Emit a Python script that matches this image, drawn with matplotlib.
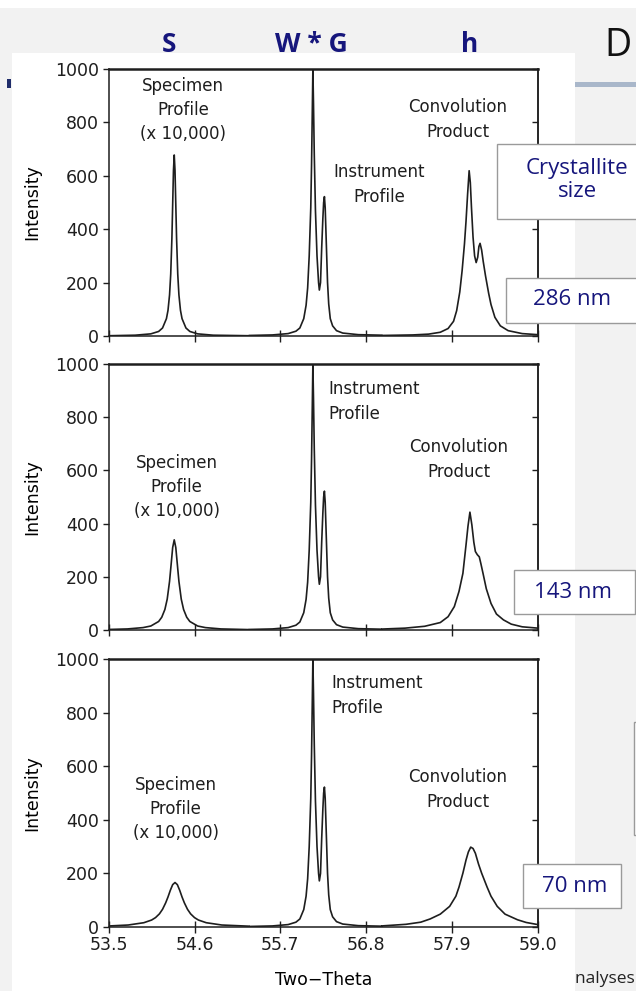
import numpy as np
import matplotlib.pyplot as plt
from matplotlib.patches import Rectangle


NAVY = '#16167c'
INK = '#1e1e1e'
W, H = 636, 991

plt.rcParams['font.family'] = ['DejaVu Sans']
plt.rcParams['text.color'] = INK
plt.rcParams['axes.edgecolor'] = INK
plt.rcParams['xtick.color'] = INK
plt.rcParams['ytick.color'] = INK

two_theta_ticks = [53.5, 54.6, 55.7, 56.8, 57.9, 59.0]
intensity_ticks = [0, 200, 400, 600, 800, 1000]
crystallite_sizes = ['286 nm', '143 nm', '70 nm']

# instrument profile (same in every panel)
inst_theta = [55.3, 55.6, 55.8, 55.9, 55.95, 56.0, 56.03, 56.05, 56.07, 56.09,
              56.10, 56.11, 56.117, 56.125, 56.135, 56.15, 56.17, 56.19, 56.20,
              56.215, 56.23, 56.245, 56.255, 56.265, 56.275, 56.29, 56.305,
              56.32, 56.34, 56.37, 56.42, 56.5, 56.7, 57.0]
inst_counts = [2, 4, 9, 18, 30, 65, 115, 180, 300, 480,
               640, 850, 1000, 870, 680, 470, 300, 200, 172,
               200, 330, 440, 500, 522, 480, 340, 200,
               120, 65, 38, 20, 11, 5, 3]

# specimen profiles (x 10,000)
spec_theta_286 = [53.5, 53.84, 54.04, 54.14, 54.19, 54.24, 54.26, 54.28, 54.295,
                  54.31, 54.32, 54.33, 54.34, 54.35, 54.36, 54.37, 54.385, 54.40,
                  54.42, 54.44, 54.49, 54.54, 54.64, 54.84, 55.3]
spec_counts_286 = [1, 3, 8, 17, 30, 65, 96, 154, 232,
                   366, 492, 619, 678, 619, 492, 366, 232, 154,
                   96, 65, 30, 17, 8, 3, 1]

spec_theta_143 = [53.5, 53.74, 53.94, 54.04, 54.14, 54.18, 54.22, 54.25, 54.28,
                  54.30, 54.32, 54.34, 54.36, 54.38, 54.40, 54.43, 54.46, 54.50,
                  54.54, 54.64, 54.74, 54.94, 55.3]
spec_counts_143 = [2, 4, 9, 15, 32, 48, 77, 116, 183,
                   246, 310, 339, 310, 246, 183, 116, 77, 48,
                   32, 15, 9, 4, 1.5]

spec_theta_70 = [53.5, 53.75, 53.95, 54.05, 54.10, 54.15, 54.19, 54.23, 54.26,
                 54.29, 54.32, 54.35, 54.38, 54.41, 54.44, 54.47, 54.51, 54.55,
                 54.60, 54.65, 54.75, 54.95, 55.3]
spec_counts_70 = [3.8, 7.4, 16, 26, 35, 49, 66, 90, 112,
                  137, 158, 166, 158, 137, 112, 90, 66, 49,
                  35, 26, 16, 7.4, 3]

# convolution products
conv_theta_286 = [57.0, 57.4, 57.6, 57.75, 57.85, 57.92, 57.96, 58.0, 58.03, 58.06,
                  58.08, 58.10, 58.12, 58.135, 58.15, 58.17, 58.19, 58.21, 58.23,
                  58.245, 58.26, 58.28, 58.30, 58.33, 58.37, 58.40, 58.45, 58.52,
                  58.62, 58.8, 59.0]
conv_counts_286 = [2, 4, 7, 14, 28, 55, 95, 165, 245, 345,
                   430, 530, 619, 575, 480, 370, 300, 275, 295,
                   335, 347, 322, 280, 225, 160, 118, 70, 38,
                   20, 9, 5]

conv_theta_143 = [57.0, 57.3, 57.55, 57.75, 57.85, 57.93, 57.99, 58.04, 58.08,
                  58.105, 58.13, 58.155, 58.18, 58.20, 58.225, 58.25, 58.27,
                  58.30, 58.34, 58.40, 58.47, 58.56, 58.66, 58.8, 59.0]
conv_counts_143 = [3.5, 7, 14, 28, 50, 88, 145, 213, 320,
                   390, 443, 395, 330, 295, 283, 275, 250,
                   210, 155, 100, 60, 38, 22, 12, 7]

conv_theta_70 = [57.0, 57.31, 57.5, 57.62, 57.75, 57.87, 57.95, 57.99, 58.04,
                 58.08, 58.11, 58.14, 58.17, 58.20, 58.24, 58.28, 58.35, 58.40,
                 58.48, 58.58, 58.74, 58.85, 59.0]
conv_counts_70 = [4, 10, 18, 30, 48, 77, 115, 149, 201,
                  250, 280, 298, 293, 275, 235, 201, 149, 115,
                  77, 48, 27, 17, 9]

spec_theta = [spec_theta_286, spec_theta_143, spec_theta_70]
spec_counts = [spec_counts_286, spec_counts_143, spec_counts_70]
conv_theta = [conv_theta_286, conv_theta_143, conv_theta_70]
conv_counts = [conv_counts_286, conv_counts_143, conv_counts_70]


def fx(px):
    return px / W


def fy(py):
    return 1 - py / H


fig = plt.figure(figsize=(W / 100, H / 100), dpi=100)
fig.patch.set_facecolor('#f2f2f2')

# slide background
fig.add_artist(Rectangle((0, fy(8)), 1, 8 / H, transform=fig.transFigure,
                         facecolor='white', edgecolor='none', zorder=-5))
fig.text(fx(635), fy(979), 'Analyses', ha='right', va='center', fontsize=12.5,
         family='Open Sans', color='#222222', zorder=-4)
fig.add_artist(Rectangle((fx(12), 0), fx(575) - fx(12), fy(53), transform=fig.transFigure,
                         facecolor='white', edgecolor='none', zorder=-3))
fig.add_artist(Rectangle((fx(575), fy(87)), 1, 5 / H, transform=fig.transFigure,
                         facecolor='#a9b7ca', edgecolor='none', zorder=-2))
fig.add_artist(Rectangle((fx(7), fy(88)), 4 / W, 9 / H, transform=fig.transFigure,
                         facecolor='#1f2c6a', edgecolor='none', zorder=-2))

for label, cx in [('S', 169), ('W * G', 311), ('h', 470)]:
    fig.text(fx(cx), fy(44), label, ha='center', va='center', fontsize=19,
             fontweight='bold', family='Open Sans', color=NAVY)
fig.text(fx(604), fy(46), 'D', ha='left', va='center', fontsize=27,
         family='Open Sans', color='#111111')

# panel geometry in pixels: (top, bottom)
panel_rows = [(69, 336), (364, 630), (659, 927)]
left_px, right_px = 108.7, 537.8

# annotation positions (data coords) and alignment per panel
spec_notes = [(54.45, 846, 'center'), (54.37, 538, 'center'), (54.36, 441, 'center')]
inst_notes = [(56.97, 566, 'center'), (56.32, 858, 'left'), (56.36, 865, 'left')]
conv_notes = [(57.97, 809, 'center'), (57.99, 640, 'center'), (57.97, 514, 'center')]

for i, (top, bot) in enumerate(panel_rows):
    ax = fig.add_axes([fx(left_px), fy(bot), fx(right_px) - fx(left_px), (bot - top) / H])
    x = np.concatenate([spec_theta[i], inst_theta, conv_theta[i]])
    y = np.concatenate([spec_counts[i], inst_counts, conv_counts[i]])
    ax.plot(x, y, color=INK, lw=1.2)

    ax.set_xlim(53.5, 59.0)
    ax.set_ylim(0, 1000)
    ax.set_xticks(two_theta_ticks)
    ax.set_yticks(intensity_ticks)
    ax.tick_params(axis='y', direction='out', length=4, width=1, labelsize=12.5, pad=3)
    ax.tick_params(axis='x', direction='inout', length=8, width=1, labelsize=12.5, pad=2.5)
    if i < 2:
        ax.set_xticklabels([])
    else:
        ax.set_xticklabels([f'{t:.1f}' for t in two_theta_ticks])
        ax.set_xlabel('Two\u2212Theta', fontsize=12.5, labelpad=12)
    ax.set_ylabel('Intensity', fontsize=12.5, labelpad=10)
    for side in ['left', 'bottom', 'right']:
        ax.spines[side].set_linewidth(1.1)
    ax.spines['top'].set_linewidth(1.8)

    sec = ax.secondary_yaxis('right')
    sec.set_yticks(intensity_ticks)
    sec.tick_params(direction='in', length=4, width=1, labelright=False)
    sec.spines['right'].set_linewidth(1.1)

    sx, sy, sa = spec_notes[i]
    ax.text(sx, sy, 'Specimen\nProfile\n(x 10,000)', ha='center', va='center',
            multialignment='center', fontsize=12, linespacing=1.45)
    ix, iy, ia = inst_notes[i]
    ax.text(ix, iy, 'Instrument\nProfile', ha=ia, va='center',
            multialignment=ia, fontsize=12, linespacing=1.5)
    cx, cy, ca = conv_notes[i]
    ax.text(cx, cy, 'Convolution\nProduct', ha='center', va='center',
            multialignment='center', fontsize=12, linespacing=1.5)

# callout boxes
boxes = [(497, 144, 660, 219), (506, 278, 660, 323), (514, 570, 635, 614),
         (523, 864, 621, 908), (634, 722, 660, 835)]
for x0, y0, x1, y1 in boxes:
    fig.add_artist(Rectangle((fx(x0), fy(y1)), fx(x1) - fx(x0), (y1 - y0) / H,
                             transform=fig.transFigure, facecolor='white',
                             edgecolor='#9a9a9a', lw=1, zorder=5))

fig.text(fx(577), fy(180), 'Crystallite\nsize', ha='center', va='center', fontsize=16,
         family='Open Sans', color=NAVY, linespacing=1.15, zorder=6)
size_centers = [(572, 300), (573, 592), (575, 887)]
for label, (cx, cy) in zip(crystallite_sizes, size_centers):
    fig.text(fx(cx), fy(cy), label, ha='center', va='center', fontsize=16,
             family='Open Sans', color=NAVY, zorder=6)

fig.savefig('out.png', dpi=100, facecolor=fig.get_facecolor())
